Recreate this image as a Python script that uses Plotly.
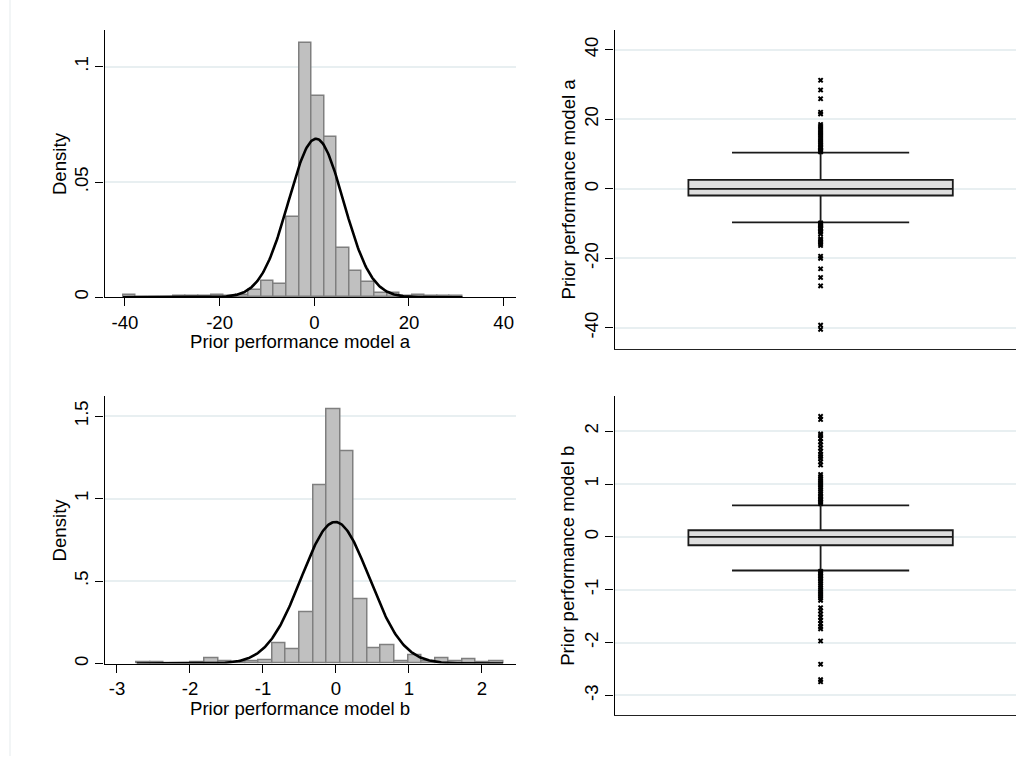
import numpy as np
import plotly.graph_objects as go

# ---- Prior performance, model a: histogram (density) ----
bin_start_a = -40.4
bin_width_a = 2.655
density_a = [0.0011, 0.0, 0.0, 0.0, 0.0005, 0.0005, 0.0005, 0.0008, 0.0005, 0.0012,
             0.0030, 0.0069, 0.0059, 0.0348, 0.1105, 0.0874, 0.0694, 0.0214, 0.0113,
             0.0065, 0.0019, 0.0019, 0.0005, 0.0011, 0.0006, 0.0006, 0.0006]
mean_a, sd_a = 0.36, 5.8

# ---- Prior performance, model b: histogram (density) ----
bin_start_b = -2.73
bin_width_b = 0.1859
density_b = [0.010, 0.008, 0.0, 0.0, 0.008, 0.031, 0.016, 0.010, 0.016, 0.022,
             0.122, 0.086, 0.310, 1.078, 1.544, 1.286, 0.391, 0.093, 0.109, 0.016,
             0.053, 0.016, 0.031, 0.016, 0.024, 0.006, 0.011]
mean_b, sd_b = -0.01, 0.465

# ---- Box plot summaries ----
box_a = dict(q1=-1.92, median=0.0, q3=2.58, lower=-9.66, upper=10.4)
outliers_a = [10.6, 10.9, 11.2, 11.6, 12.0, 12.5, 13.0, 13.5, 14.0, 14.6, 15.2, 15.8,
              16.3, 16.9, 17.4, 18.0, 18.5, 21.5, 22.0, 25.9, 28.4, 31.2,
              -9.8, -10.1, -10.4, -10.8, -11.2, -11.6, -12.0, -12.5, -13.0, -14.3,
              -14.8, -15.3, -15.8, -16.3, -19.4, -20.0, -23.0, -25.5, -27.9, -39.2, -40.4]

box_b = dict(q1=-0.158, median=0.0, q3=0.125, lower=-0.636, upper=0.597)
outliers_b = [0.63, 0.66, 0.69, 0.72, 0.75, 0.78, 0.82, 0.86, 0.90, 0.94, 0.98, 1.02,
              1.06, 1.10, 1.14, 1.18, 1.36, 1.42, 1.48, 1.52, 1.56, 1.62, 1.68, 1.74,
              1.80, 1.86, 1.92, 1.95, 2.22, 2.28,
              -0.65, -0.68, -0.71, -0.74, -0.77, -0.80, -0.84, -0.88, -0.92, -0.96,
              -1.00, -1.04, -1.08, -1.12, -1.16, -1.20, -1.34, -1.40, -1.46, -1.52,
              -1.58, -1.64, -1.70, -1.74, -1.97, -2.41, -2.70, -2.74]

# ---- Tick values and labels ----
ticks_hist_a_x = [-40, -20, 0, 20, 40]
ticks_hist_a_y = [0, 0.05, 0.1]
labels_hist_a_y = ["0", ".05", ".1"]
ticks_hist_b_x = [-3, -2, -1, 0, 1, 2]
ticks_hist_b_y = [0, 0.5, 1, 1.5]
labels_hist_b_y = ["0", ".5", "1", "1.5"]
ticks_box_a = [-40, -20, 0, 20, 40]
ticks_box_b = [-3, -2, -1, 0, 1, 2]

label_a = "Prior performance model a"
label_b = "Prior performance model b"

FONT = "Liberation Sans, Arial, sans-serif"
FS = 18.6
GRID = "#e8eff1"
BAR_FILL = "#c0c0c0"
BAR_LINE = "#7f7f7f"
W, H = 1016, 758


def px_x(p):
    return p / W


def px_y(p):
    return 1 - p / H


def hyphen(vals):
    # plain ASCII hyphen for negative numbers
    return [("%g" % v).replace("\u2212", "-") for v in vals]


def normal_pdf(x, m, s):
    return np.exp(-0.5 * ((x - m) / s) ** 2) / (s * np.sqrt(2 * np.pi))


fig = go.Figure()

# histograms with normal overlay
for dens, start, width, m, s, xa, ya in [
    (density_a, bin_start_a, bin_width_a, mean_a, sd_a, "x", "y"),
    (density_b, bin_start_b, bin_width_b, mean_b, sd_b, "x2", "y2"),
]:
    n = len(dens)
    centers = start + width * (np.arange(n) + 0.5)
    fig.add_trace(go.Bar(
        x=centers, y=dens, width=width, xaxis=xa, yaxis=ya,
        marker=dict(color=BAR_FILL, line=dict(color=BAR_LINE, width=1.5)),
        showlegend=False, hoverinfo="skip"))
    xs = np.linspace(start, start + width * n, 400)
    fig.add_trace(go.Scatter(
        x=xs, y=normal_pdf(xs, m, s), mode="lines", xaxis=xa, yaxis=ya,
        line=dict(color="black", width=2.6), showlegend=False, hoverinfo="skip"))

# box plots with outliers
for b, outs, xa, ya in [(box_a, outliers_a, "x3", "y3"), (box_b, outliers_b, "x4", "y4")]:
    fig.add_trace(go.Box(
        x=[0], q1=[b["q1"]], median=[b["median"]], q3=[b["q3"]],
        lowerfence=[b["lower"]], upperfence=[b["upper"]],
        width=1.0, whiskerwidth=0.67, boxpoints=False,
        fillcolor="#dedede", line=dict(color="#1a1a1a", width=1.8),
        xaxis=xa, yaxis=ya, showlegend=False, hoverinfo="skip"))
    fig.add_trace(go.Scatter(
        x=[0] * len(outs), y=outs, mode="markers", xaxis=xa, yaxis=ya,
        marker=dict(symbol="x", size=5, color="black", line=dict(width=0)),
        showlegend=False, hoverinfo="skip"))

axis_common = dict(showline=True, linecolor="black", linewidth=1.3,
                   ticks="outside", ticklen=8, tickcolor="black", tickwidth=1.3,
                   zeroline=False, tickfont=dict(family=FONT, size=FS, color="black"))

left_x = [px_x(104.5), px_x(516)]
right_x = [px_x(614.5), 1.0]

fig.update_layout(
    width=W, height=H, margin=dict(l=0, r=0, t=0, b=0),
    paper_bgcolor="white", plot_bgcolor="white", bargap=0,
    font=dict(family=FONT, size=FS, color="black"),
    # model a histogram
    xaxis=dict(domain=left_x, range=[-44.31, 42.60], tickvals=ticks_hist_a_x,
               ticktext=hyphen(ticks_hist_a_x), showgrid=False, anchor="y", **axis_common),
    yaxis=dict(domain=[px_y(298), px_y(30)], range=[0, 0.116], tickvals=ticks_hist_a_y,
               ticktext=labels_hist_a_y, tickangle=-90, showgrid=True, gridcolor=GRID,
               gridwidth=1.5, anchor="x", **axis_common),
    # model b histogram
    xaxis2=dict(domain=left_x, range=[-3.171, 2.466], tickvals=ticks_hist_b_x,
                ticktext=hyphen(ticks_hist_b_x), showgrid=False, anchor="y2", **axis_common),
    yaxis2=dict(domain=[px_y(665.3), px_y(397.3)], range=[0, 1.62], tickvals=ticks_hist_b_y,
                ticktext=labels_hist_b_y, tickangle=-90, showgrid=True, gridcolor=GRID,
                gridwidth=1.5, anchor="x2", **axis_common),
    # model a box
    xaxis3=dict(domain=right_x, range=[-0.7795, 0.7390], showticklabels=False, ticks="",
                showgrid=False, showline=True, linecolor="#222", linewidth=1.3,
                zeroline=False, anchor="y3"),
    yaxis3=dict(domain=[px_y(350), px_y(30)], range=[-46.08, 45.68],
                tickvals=ticks_box_a, ticktext=hyphen(ticks_box_a), tickangle=-90,
                showgrid=True, gridcolor=GRID, gridwidth=1.5, anchor="x3", **axis_common),
    # model b box
    xaxis4=dict(domain=right_x, range=[-0.7795, 0.7390], showticklabels=False, ticks="",
                showgrid=False, showline=True, linecolor="#222", linewidth=1.3,
                zeroline=False, anchor="y4"),
    yaxis4=dict(domain=[px_y(717.3), px_y(397.3)], range=[-3.377, 2.660],
                tickvals=ticks_box_b, ticktext=hyphen(ticks_box_b), tickangle=-90,
                showgrid=True, gridcolor=GRID, gridwidth=1.5, anchor="x4", **axis_common),
)

# axis titles
titles = [
    ("Density", 59.5, 164, -90),
    ("Density", 59.5, 531.3, -90),
    (label_a, 300, 342, 0),
    (label_b, 300, 710, 0),
    (label_a, 568, 190, -90),
    (label_b, 568, 557.3, -90),
]
for text, cx, cy, ang in titles:
    fig.add_annotation(text=text, x=px_x(cx), y=px_y(cy), xref="paper", yref="paper",
                       showarrow=False, textangle=ang, xanchor="center", yanchor="middle",
                       font=dict(family=FONT, size=FS, color="black"))

# faint outer frame line on the left
fig.add_shape(type="line", xref="paper", yref="paper", x0=px_x(10), x1=px_x(10),
              y0=0, y1=1, line=dict(color="#eef2f3", width=1.5))

fig.write_html("out.html")
